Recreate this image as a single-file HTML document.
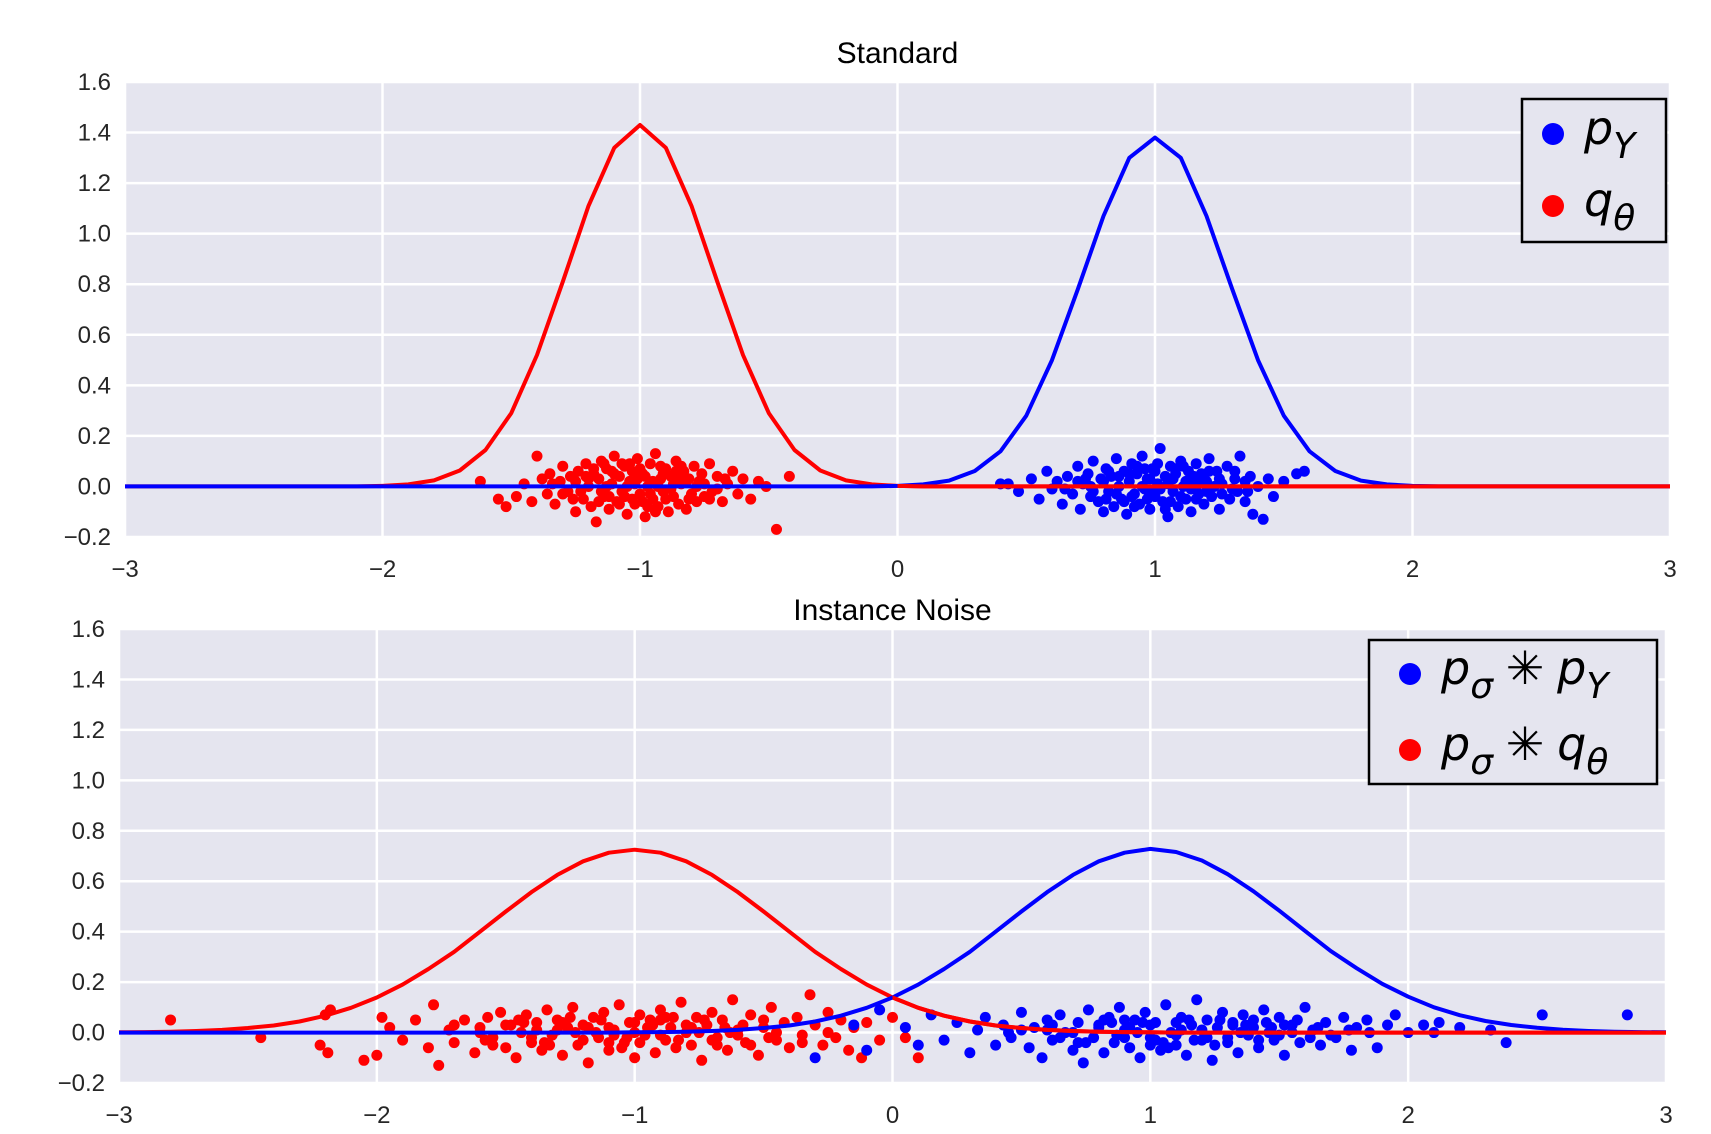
<!DOCTYPE html>
<html><head><meta charset="utf-8"><style>
html,body{margin:0;padding:0;background:#fff;}
svg{display:block;font-family:"Liberation Sans","DejaVu Sans",sans-serif;}
</style></head><body>
<svg id="chart" width="1711" height="1134" viewBox="0 0 1711 1134" xmlns="http://www.w3.org/2000/svg">
<g id="top"></g>
<g id="bot"></g>
</svg>
<script>
const xTicks=[-3,-2,-1,0,1,2,3];
const yTicks=[-0.2,0.0,0.2,0.4,0.6,0.8,1.0,1.2,1.4,1.6];
const curveX0=-3, curveStep=0.1;
const topRedCurve=[0,0,0,0,0,0,0,0,0,0,0.002,0.008,0.024,0.063,0.144,0.29,0.52,0.81,1.11,1.34,1.43,1.34,1.11,0.81,0.52,0.29,0.144,0.063,0.024,0.008,0.002,0,0,0,0,0,0,0,0,0,0,0,0,0,0,0,0,0,0,0,0,0,0,0,0,0,0,0,0,0,0];
const topBlueCurve=[0,0,0,0,0,0,0,0,0,0,0,0,0,0,0,0,0,0,0,0,0,0,0,0,0,0,0,0,0,0,0.002,0.008,0.023,0.061,0.139,0.28,0.50,0.78,1.07,1.30,1.38,1.30,1.07,0.78,0.50,0.28,0.139,0.061,0.023,0.008,0.002,0,0,0,0,0,0,0,0,0,0];
const botRedCurve=[0.001,0.002,0.0034,0.006,0.0105,0.018,0.028,0.044,0.067,0.098,0.139,0.19,0.252,0.32,0.40,0.48,0.557,0.625,0.679,0.713,0.725,0.713,0.679,0.625,0.557,0.48,0.40,0.32,0.252,0.19,0.139,0.098,0.067,0.044,0.028,0.018,0.0105,0.006,0.0034,0.002,0.001,0,0,0,0,0,0,0,0,0,0,0,0,0,0,0,0,0,0,0,0];
const botBlueCurve=[0,0,0,0,0,0,0,0,0,0,0,0,0,0,0,0,0,0,0,0,0.001,0.002,0.0034,0.006,0.0105,0.018,0.028,0.044,0.067,0.098,0.139,0.19,0.252,0.32,0.40,0.48,0.557,0.625,0.679,0.713,0.728,0.716,0.682,0.628,0.56,0.483,0.403,0.323,0.255,0.193,0.142,0.1,0.069,0.046,0.03,0.019,0.011,0.006,0.0034,0.002,0.001];
const topRedPts=[[-1.62,0.02],[-1.55,-0.05],[-1.52,-0.08],[-1.48,-0.04],[-1.45,0.01],[-1.42,-0.06],[-1.40,0.12],[-1.38,0.03],[-1.36,-0.03],[-1.35,0.05],[-1.33,-0.07],[-1.31,0.02],[-1.30,0.08],[-1.28,-0.02],[-1.27,0.04],[-1.25,-0.10],[-1.24,0.06],[-1.22,-0.05],[-1.21,0.09],[-1.20,0.00],[-1.19,-0.08],[-1.18,0.05],[-1.17,-0.14],[-1.16,0.03],[-1.15,0.10],[-1.14,-0.04],[-1.13,0.07],[-1.12,-0.09],[-1.11,0.01],[-1.10,0.12],[-1.09,-0.06],[-1.08,0.04],[-1.07,-0.02],[-1.06,0.08],[-1.05,-0.11],[-1.04,0.02],[-1.03,0.06],[-1.02,-0.07],[-1.01,0.11],[-1.00,-0.03],[-0.99,0.05],[-0.98,-0.12],[-0.97,0.00],[-0.96,0.09],[-0.95,-0.05],[-0.94,0.13],[-0.93,-0.08],[-0.92,0.03],[-0.91,-0.02],[-0.90,0.07],[-0.89,-0.10],[-0.88,0.04],[-0.87,-0.04],[-0.86,0.10],[-0.85,-0.07],[-0.84,0.01],[-0.83,0.06],[-0.82,-0.09],[-0.81,0.03],[-0.80,-0.03],[-0.79,0.08],[-0.78,-0.06],[-0.77,0.02],[-0.76,0.05],[-0.75,-0.04],[-0.73,0.09],[-0.72,-0.02],[-0.70,0.04],[-0.68,-0.06],[-0.66,0.01],[-0.64,0.06],[-0.62,-0.03],[-0.60,0.03],[-0.57,-0.05],[-0.54,0.02],[-0.51,0.00],[-0.47,-0.17],[-0.42,0.04],[-1.20,0.03],[-1.15,-0.02],[-1.10,0.05],[-1.05,0.00],[-1.00,0.07],[-0.95,0.02],[-0.90,-0.05],[-0.85,0.04],[-1.12,-0.04],[-1.02,0.01],[-0.92,0.08],[-1.08,-0.07],[-0.98,0.04],[-0.88,-0.01],[-1.18,0.07],[-0.82,0.02],[-1.25,0.02],[-0.75,0.01],[-1.30,-0.03],[-0.70,-0.01],[-1.13,0.00],[-1.03,-0.05],[-0.93,0.00],[-0.97,-0.08],[-1.07,0.09],[-0.86,0.06],[-1.23,-0.02],[-0.78,0.00],[-1.16,-0.06],[-1.06,-0.04],[-0.96,-0.03],[-0.87,0.01],[-1.26,-0.05],[-1.11,0.06],[-1.01,0.03],[-0.91,0.05],[-0.81,-0.05],[-1.21,0.04],[-0.99,-0.06],[-0.94,-0.10],[-1.04,0.09],[-1.14,0.09],[-0.84,0.08],[-1.34,0.01],[-0.67,0.03],[-0.73,-0.05]];
const topBluePts=[[0.40,0.01],[0.43,0.01],[0.47,-0.02],[0.52,0.03],[0.55,-0.05],[0.58,0.06],[0.60,-0.01],[0.62,0.02],[0.64,-0.07],[0.66,0.04],[0.68,-0.03],[0.70,0.08],[0.71,-0.09],[0.72,0.01],[0.74,0.05],[0.75,-0.04],[0.76,0.10],[0.78,-0.06],[0.79,0.03],[0.80,-0.10],[0.81,0.07],[0.82,-0.02],[0.83,0.04],[0.84,-0.08],[0.85,0.11],[0.86,0.00],[0.87,-0.05],[0.88,0.06],[0.89,-0.11],[0.90,0.02],[0.91,0.09],[0.92,-0.03],[0.93,0.05],[0.94,-0.07],[0.95,0.12],[0.96,-0.01],[0.97,0.03],[0.98,-0.09],[0.99,0.07],[1.00,-0.04],[1.01,0.01],[1.02,0.15],[1.03,-0.06],[1.04,0.04],[1.05,-0.12],[1.06,0.08],[1.07,-0.02],[1.08,0.05],[1.09,-0.08],[1.10,0.10],[1.11,0.00],[1.12,-0.05],[1.13,0.06],[1.14,-0.10],[1.15,0.03],[1.16,0.09],[1.17,-0.03],[1.18,0.05],[1.19,-0.07],[1.20,0.02],[1.21,0.11],[1.22,-0.04],[1.24,0.06],[1.25,-0.09],[1.26,0.01],[1.28,0.08],[1.29,-0.05],[1.31,0.03],[1.32,-0.02],[1.33,0.12],[1.35,-0.06],[1.37,0.04],[1.38,-0.11],[1.40,0.00],[1.42,-0.13],[1.44,0.03],[1.46,-0.04],[1.50,0.02],[1.55,0.05],[1.58,0.06],[0.80,0.02],[0.85,-0.03],[0.90,0.05],[0.95,0.00],[1.00,0.06],[1.05,0.01],[1.10,-0.04],[1.15,0.04],[0.88,-0.06],[0.98,0.03],[1.08,0.07],[0.92,-0.08],[1.02,-0.01],[1.12,0.02],[0.75,0.00],[1.25,0.03],[0.70,0.02],[1.30,-0.01],[1.20,-0.02],[0.82,0.06],[0.97,-0.05],[1.07,0.03],[1.17,0.01],[0.93,0.08],[1.35,0.02],[0.65,-0.01],[0.86,0.04],[0.96,0.07],[1.06,-0.06],[1.16,-0.05],[1.26,-0.03],[0.76,-0.02],[0.91,-0.04],[1.01,0.09],[1.11,0.08],[1.21,0.06],[1.31,0.06],[0.81,-0.05],[0.99,-0.02],[1.04,-0.09],[1.14,-0.01],[1.23,0.00],[0.73,0.03],[1.36,-0.02]];
const botRedPts=[[-2.80,0.05],[-2.45,-0.02],[-2.22,-0.05],[-2.20,0.07],[-2.19,-0.08],[-2.18,0.09],[-2.05,-0.11],[-2.00,-0.09],[-1.98,0.06],[-1.95,0.02],[-1.90,-0.03],[-1.85,0.05],[-1.80,-0.06],[-1.78,0.11],[-1.76,-0.13],[-1.72,0.01],[-1.70,-0.04],[-1.66,0.05],[-1.62,-0.08],[-1.60,0.02],[-1.57,0.06],[-1.55,-0.02],[-1.52,0.08],[-1.50,-0.06],[-1.48,0.03],[-1.46,-0.10],[-1.44,0.00],[-1.42,0.07],[-1.40,-0.04],[-1.38,0.04],[-1.36,-0.07],[-1.34,0.09],[-1.32,-0.01],[-1.30,0.05],[-1.28,-0.09],[-1.26,0.02],[-1.24,0.10],[-1.22,-0.05],[-1.20,0.03],[-1.18,-0.12],[-1.16,0.06],[-1.14,-0.02],[-1.12,0.08],[-1.10,-0.07],[-1.08,0.01],[-1.06,0.11],[-1.04,-0.04],[-1.02,0.04],[-1.00,-0.10],[-0.98,0.07],[-0.96,-0.01],[-0.94,0.05],[-0.92,-0.08],[-0.90,0.09],[-0.88,-0.03],[-0.86,0.02],[-0.84,-0.06],[-0.82,0.12],[-0.80,0.00],[-0.78,-0.05],[-0.76,0.06],[-0.74,-0.11],[-0.72,0.03],[-0.70,0.08],[-0.68,-0.02],[-0.66,0.05],[-0.64,-0.07],[-0.62,0.13],[-0.60,0.01],[-0.57,-0.04],[-0.55,0.07],[-0.52,-0.09],[-0.50,0.02],[-0.47,0.10],[-0.45,-0.03],[-0.42,0.04],[-0.40,-0.06],[-0.37,0.06],[-0.35,-0.01],[-0.32,0.15],[-0.30,0.03],[-0.27,-0.05],[-0.25,0.08],[-0.22,-0.02],[-0.20,0.05],[-0.17,-0.07],[-0.15,0.02],[-0.12,-0.10],[-0.10,0.04],[-0.05,-0.03],[0.00,0.06],[0.05,-0.02],[0.10,-0.10],[-1.6,0.0],[-1.5,0.03],[-1.4,-0.02],[-1.3,0.01],[-1.2,-0.03],[-1.1,0.02],[-1.0,0.04],[-0.9,-0.01],[-0.8,0.03],[-0.7,-0.03],[-0.6,-0.01],[-0.5,0.05],[-1.45,0.05],[-1.35,-0.04],[-1.25,0.06],[-1.15,0.00],[-1.05,-0.06],[-0.95,0.02],[-0.85,0.06],[-0.75,0.00],[-0.65,0.02],[-0.55,-0.05],[-1.7,0.03],[-1.55,-0.05],[-1.0,0.0],[-0.9,0.05],[-1.1,-0.04],[-0.45,0.00],[-0.35,-0.04],[-0.25,0.00],[-1.58,-0.03],[-1.43,0.04],[-1.33,-0.05],[-1.23,0.00],[-1.13,0.05],[-1.03,-0.02],[-0.93,0.03],[-0.83,-0.03],[-0.73,0.05],[-0.63,0.00],[-1.38,0.01],[-1.18,0.02],[-0.98,-0.04],[-0.78,0.02],[-0.58,0.03],[-1.28,0.04],[-1.08,-0.01],[-0.88,0.06],[-0.68,-0.05],[-0.48,-0.02]];
const botBluePts=[[-0.30,-0.10],[-0.15,0.03],[-0.10,-0.07],[-0.05,0.09],[0.05,0.02],[0.10,-0.05],[0.15,0.07],[0.20,-0.03],[0.25,0.04],[0.30,-0.08],[0.33,0.01],[0.36,0.06],[0.40,-0.05],[0.43,0.03],[0.46,-0.02],[0.50,0.08],[0.53,-0.06],[0.55,0.02],[0.58,-0.10],[0.60,0.05],[0.62,-0.03],[0.65,0.07],[0.67,0.00],[0.70,-0.07],[0.72,0.04],[0.74,-0.12],[0.76,0.09],[0.78,-0.02],[0.80,0.03],[0.82,-0.08],[0.84,0.06],[0.86,-0.04],[0.88,0.10],[0.90,0.01],[0.92,-0.06],[0.94,0.05],[0.96,-0.10],[0.98,0.08],[1.00,-0.02],[1.02,0.04],[1.04,-0.07],[1.06,0.11],[1.08,0.00],[1.10,-0.05],[1.12,0.06],[1.14,-0.09],[1.16,0.03],[1.18,0.13],[1.20,-0.03],[1.22,0.05],[1.24,-0.11],[1.26,0.02],[1.28,0.08],[1.30,-0.04],[1.32,0.04],[1.34,-0.08],[1.36,0.07],[1.38,-0.01],[1.40,0.05],[1.42,-0.06],[1.44,0.09],[1.46,0.00],[1.48,-0.03],[1.50,0.06],[1.52,-0.09],[1.55,0.03],[1.58,-0.04],[1.60,0.10],[1.63,0.01],[1.66,-0.05],[1.68,0.04],[1.72,-0.02],[1.75,0.06],[1.78,-0.07],[1.80,0.02],[1.84,0.05],[1.88,-0.06],[1.92,0.03],[1.95,0.07],[2.00,0.00],[2.06,0.03],[2.10,0.00],[2.12,0.04],[2.20,0.02],[2.32,0.01],[2.38,-0.04],[2.52,0.07],[2.85,0.07],[0.7,0.0],[0.8,0.02],[0.9,-0.02],[1.0,0.03],[1.1,-0.01],[1.2,0.01],[1.3,-0.02],[1.4,0.02],[1.5,-0.01],[0.6,0.01],[0.75,-0.04],[0.85,0.04],[0.95,0.00],[1.05,-0.04],[1.15,0.05],[1.25,-0.05],[1.35,0.00],[1.45,0.04],[0.65,-0.02],[1.55,0.00],[1.65,0.02],[0.5,0.01],[1.0,-0.05],[1.1,0.04],[0.9,0.05],[1.7,-0.01],[0.45,0.00],[1.85,0.00],[0.72,-0.04],[0.82,0.05],[0.92,0.02],[1.02,-0.03],[1.12,0.01],[1.22,-0.02],[1.32,0.03],[1.42,-0.03],[1.52,0.03],[1.62,-0.02],[0.87,-0.01],[0.97,0.04],[1.07,-0.06],[1.17,-0.03],[1.27,0.05],[1.37,0.03],[1.47,0.02],[0.62,0.03],[1.57,0.05],[1.77,0.01]];

const NS='http://www.w3.org/2000/svg';
function mk(parent,tag,attrs){const e=document.createElementNS(NS,tag);for(const k in attrs)e.setAttribute(k,attrs[k]);parent.appendChild(e);return e;}
let clipN=0;
function panel(g,box,title,titleY,curves,pts,legendDef){
  const sx=v=>box.l+(v+3)/6*(box.r-box.l);
  const sy=v=>box.b-(v+0.2)/1.8*(box.b-box.t);
  const bg=mk(g,'rect',{x:box.l,y:box.t,width:box.r-box.l,height:box.b-box.t,fill:'#e5e5ef'});
  
  
  yTicks.forEach(v=>{
    const ln=mk(g,'line',{x1:box.l,x2:box.r,y1:sy(v),y2:sy(v),stroke:'#fff','stroke-width':2.5});
    
    
    const t=mk(g,'text',{x:box.l-14,y:sy(v)+8,'text-anchor':'end','font-size':24,fill:'#262626'});
    t.textContent=(v<0?'\u2212':'')+Math.abs(v).toFixed(1);
    
    
  });
  xTicks.forEach(v=>{
    const ln=mk(g,'line',{x1:sx(v),x2:sx(v),y1:box.t,y2:box.b,stroke:'#fff','stroke-width':2.5});
    
    
    const t=mk(g,'text',{x:sx(v),y:box.b+40,'text-anchor':'middle','font-size':24,fill:'#262626'});
    t.textContent=(v<0?'\u2212':'')+Math.abs(v);
    
    
  });
  const tt=mk(g,'text',{x:(box.l+box.r)/2,y:titleY,'text-anchor':'middle','font-size':30,fill:'#000'});
  tt.textContent=title;
  
  
  pts.forEach(([arr,col,nm])=>{
    arr.forEach(p=>{
      const c=mk(g,'circle',{cx:sx(p[0]),cy:sy(p[1]),r:5.5,fill:col});
      
      
    });
  });
  const cid='clip'+(clipN++);
  const cp=mk(g,'clipPath',{id:cid});
  mk(cp,'rect',{x:sx(0),y:box.t,width:box.r-sx(0),height:box.b-box.t});
  const paths=curves.map(([arr,col,nm])=>arr.map((v,i)=>(i?'L':'M')+sx(curveX0+i*curveStep).toFixed(1)+','+sy(v).toFixed(1)).join(''));
  curves.forEach(([arr,col,nm],k)=>{
    const p=mk(g,'path',{d:paths[k],fill:'none',stroke:col,'stroke-width':4,'stroke-linejoin':'round'});
    
    
  });
  const rp=mk(g,'path',{d:paths[0],fill:'none',stroke:curves[0][1],'stroke-width':4,'clip-path':'url(#'+cid+')'});
  
  
  const L=legendDef;
  const lg=mk(g,'g',{});
  
  
  mk(lg,'rect',{x:L.x,y:L.y,width:L.w,height:L.h,fill:'#e5e5ef',stroke:'#000','stroke-width':2.5});
  L.items.forEach((it,i)=>{
    const cy=L.y+L.row0+i*L.dy;
    const c=mk(lg,'circle',{cx:L.x+L.dot,cy:cy,r:11,fill:it.col});
    
    
    const t=mk(lg,'text',{x:L.x+L.tx,y:cy+10,'font-size':46,fill:'#000','font-family':'"DejaVu Sans",sans-serif'});
    
    
    t.innerHTML=it.html;
  });
}

panel(document.getElementById('top'),{l:125,r:1670,t:82,b:537},'Standard',63,
  [[topRedCurve,'#ff0000','red-curve'],[topBlueCurve,'#0000ff','blue-curve']],
  [[topRedPts,'#ff0000','red-sample'],[topBluePts,'#0000ff','blue-sample']],
  {x:1530-8,y:99,w:144,h:143,row0:35,dy:72,dot:31,tx:62,items:[
    {col:'#0000ff',html:'<tspan font-style="italic">p</tspan><tspan font-style="italic" font-size="36" dy="14">Y</tspan>'},
    {col:'#ff0000',html:'<tspan font-style="italic">q</tspan><tspan font-style="italic" font-size="36" dy="14">θ</tspan>'}]});
panel(document.getElementById('bot'),{l:119,r:1666,t:629,b:1083},'Instance Noise',620,
  [[botRedCurve,'#ff0000','red-curve'],[botBlueCurve,'#0000ff','blue-curve']],
  [[botRedPts,'#ff0000','red-sample'],[botBluePts,'#0000ff','blue-sample']],
  {x:1369,y:640,w:288,h:144,row0:34,dy:76,dot:41,tx:72,items:[
    {col:'#0000ff',html:'<tspan font-style="italic">p</tspan><tspan font-style="italic" font-size="36" dy="14">σ</tspan><tspan dy="-14" font-size="46" font-family="Liberation Sans, sans-serif"> ✳ </tspan><tspan font-style="italic">p</tspan><tspan font-style="italic" font-size="36" dy="14">Y</tspan>'},
    {col:'#ff0000',html:'<tspan font-style="italic">p</tspan><tspan font-style="italic" font-size="36" dy="14">σ</tspan><tspan dy="-14" font-size="46" font-family="Liberation Sans, sans-serif"> ✳ </tspan><tspan font-style="italic">q</tspan><tspan font-style="italic" font-size="36" dy="14">θ</tspan>'}]});
</script>
</body></html>
